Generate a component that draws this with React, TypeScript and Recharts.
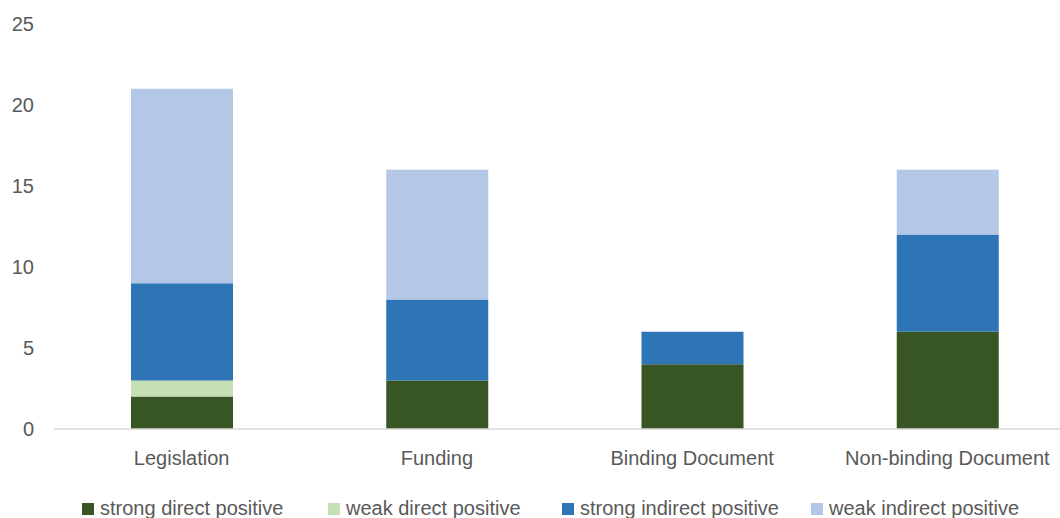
import React from 'react';
import { BarChart, Bar, XAxis, YAxis, Legend } from 'recharts';

const categories = ['Legislation', 'Funding', 'Binding Document', 'Non-binding Document'];
const strongDirect = [2, 3, 4, 6];
const weakDirect = [1, 0, 0, 0];
const strongIndirect = [6, 5, 2, 6];
const weakIndirect = [12, 8, 0, 4];
const yTicks = [0, 5, 10, 15, 20, 25];

const SERIES = [
  { key: 'strongDirect', name: 'strong direct positive', color: '#375623' },
  { key: 'weakDirect', name: 'weak direct positive', color: '#C5E0B4' },
  { key: 'strongIndirect', name: 'strong indirect positive', color: '#2E75B6' },
  { key: 'weakIndirect', name: 'weak indirect positive', color: '#B4C7E7' },
];

const data = categories.map((c, i) => ({
  category: c,
  strongDirect: strongDirect[i],
  weakDirect: weakDirect[i],
  strongIndirect: strongIndirect[i],
  weakIndirect: weakIndirect[i],
}));

const FONT = '"Liberation Sans", Arial, sans-serif';
const TEXT = '#595959';

function LegendBox() {
  // positions loosely follow the original legend row
  const left = [82, 328, 562, 811];
  return (
    <div style={{ position: 'relative', height: 24, fontFamily: FONT, fontSize: 20, color: TEXT }}>
      {SERIES.map((s, i) => (
        <div key={s.key} style={{ position: 'absolute', left: left[i], top: 0, display: 'flex', alignItems: 'center', whiteSpace: 'nowrap' }}>
          <span style={{ width: 12, height: 12, background: s.color, display: 'inline-block', marginRight: 6 }} />
          <span>{s.name}</span>
        </div>
      ))}
    </div>
  );
}

export default function App() {
  return (
    <div style={{ position: 'absolute', left: 0, top: 0, width: 1060, height: 518, overflow: 'hidden', background: '#fff' }}>
      <BarChart
        width={1080}
        height={530}
        data={data}
        margin={{ top: 24, right: 5, left: 0, bottom: 17 }}
        barCategoryGap={0}
      >
        <XAxis
          dataKey="category"
          axisLine={{ stroke: '#D9D9D9', strokeWidth: 1.5 }}
          tickLine={false}
          height={60}
          tick={{ fontSize: 20, fill: TEXT, fontFamily: FONT, dy: 14 }}
          interval={0}
        />
        <YAxis
          width={54}
          domain={[0, 25]}
          ticks={yTicks}
          axisLine={false}
          tickLine={false}
          tick={{ fontSize: 20, fill: TEXT, fontFamily: FONT, dx: -12 }}
        />
        <Legend verticalAlign="bottom" align="left" height={24} content={() => <LegendBox />} wrapperStyle={{ left: 0, width: 1060, bottom: 9 }} />
        {SERIES.map((s) => (
          <Bar key={s.key} dataKey={s.key} name={s.name} stackId="a" fill={s.color} barSize={102} isAnimationActive={false} />
        ))}
      </BarChart>
    </div>
  );
}
